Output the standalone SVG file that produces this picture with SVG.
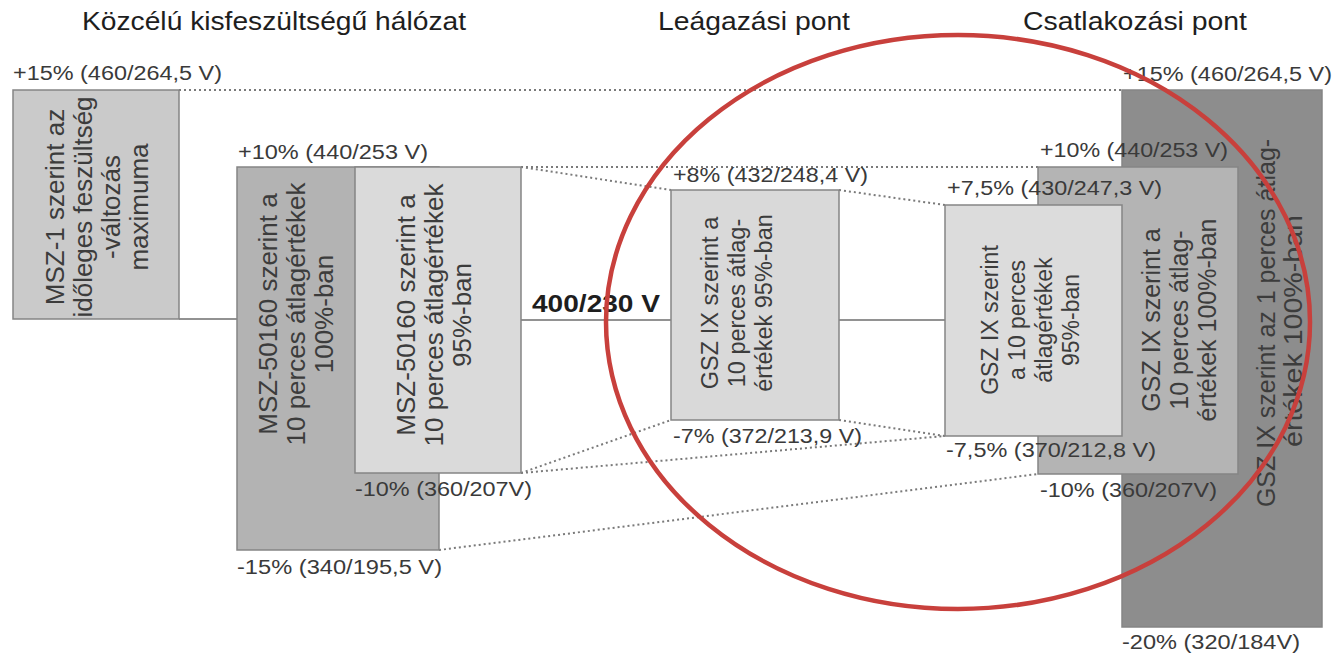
<svg xmlns="http://www.w3.org/2000/svg" width="1335" height="656" viewBox="0 0 1335 656">
<style>
.title{font-family:"Liberation Sans",Arial,sans-serif;font-size:26px;fill:#1e1e1e}
.lbl{font-family:"Liberation Sans",Arial,sans-serif;font-size:20px;fill:#3a3a3a}
.rot{font-family:"Liberation Sans",Arial,sans-serif;fill:#3c3c3c;text-anchor:middle}
.box{stroke:#858585;stroke-width:1.5}
.solid{stroke:#6e6e6e;stroke-width:1.5;fill:none}
.dot{stroke:#7a7a7a;stroke-width:2;stroke-dasharray:2 3;fill:none}
</style>
<rect width="1335" height="656" fill="#ffffff"/>
<g id="titles">
<text class="title" x="82" y="30" textLength="384" lengthAdjust="spacingAndGlyphs">Közcélú kisfeszültségű hálózat</text>
<text class="title" x="658" y="30" textLength="192" lengthAdjust="spacingAndGlyphs">Leágazási pont</text>
<text class="title" x="1023" y="30" textLength="224" lengthAdjust="spacingAndGlyphs">Csatlakozási pont</text>
</g>
<g id="connectors">
<line class="solid" x1="179" y1="319" x2="237" y2="319"/>
<line class="solid" x1="521" y1="320" x2="671" y2="320"/>
<line class="solid" x1="839" y1="320" x2="945" y2="320"/>
<line class="dot" x1="179" y1="90" x2="1122" y2="90"/>
<line class="dot" x1="521" y1="167" x2="1038" y2="167"/>
<line class="dot" x1="521" y1="167" x2="671" y2="190"/>
<line class="dot" x1="839" y1="190" x2="945" y2="205"/>
<line class="dot" x1="521" y1="473" x2="671" y2="420"/>
<line class="dot" x1="521" y1="473" x2="945" y2="436"/>
<line class="dot" x1="839" y1="420" x2="945" y2="436"/>
<line class="dot" x1="439" y1="550" x2="1038" y2="474"/>
</g>
<g id="msz1">
<rect class="box" x="13" y="90" width="166" height="229" fill="#cacaca"/>
<text class="rot" font-size="26" transform="translate(0,207) rotate(-90)"><tspan x="0" y="64">MSZ-1 szerint az</tspan><tspan x="0" y="92">időleges feszültség</tspan><tspan x="0" y="120">-változás</tspan><tspan x="0" y="148">maximuma</tspan></text>
</g>
<g id="msz50160-100">
<rect class="box" x="237" y="167" width="202" height="383" fill="#b3b3b3"/>
<text class="rot" font-size="26" transform="translate(0,314) rotate(-90)"><tspan x="0" y="277">MSZ-50160 szerint a</tspan><tspan x="0" y="305">10 perces átlagértékek</tspan><tspan x="0" y="333">100%-ban</tspan></text>
</g>
<g id="msz50160-95">
<rect class="box" x="355" y="167" width="166" height="306" fill="#dadada"/>
<text class="rot" font-size="26" transform="translate(0,315) rotate(-90)"><tspan x="0" y="415">MSZ-50160 szerint a</tspan><tspan x="0" y="443">10 perces átlagértékek</tspan><tspan x="0" y="471">95%-ban</tspan></text>
</g>
<g id="gsz-leag">
<rect class="box" x="671" y="190" width="168" height="230" fill="#d9d9d9"/>
<text class="rot" font-size="23.5" transform="translate(0,303) rotate(-90)"><tspan x="0" y="718">GSZ IX szerint a</tspan><tspan x="0" y="745">10 perces átlag-</tspan><tspan x="0" y="772">értékek 95%-ban</tspan></text>
</g>
<g id="gsz-1perc">
<rect class="box" x="1122" y="90" width="200" height="537" fill="#8d8d8d"/>
<text class="rot" font-size="25" transform="translate(0,323) rotate(-90)"><tspan x="0" y="1275">GSZ IX szerint az 1 perces átlag-</tspan></text>
<text class="rot" font-size="25" transform="translate(0,331) rotate(-90)" x="0" y="1302" textLength="232" lengthAdjust="spacingAndGlyphs">értékek 100%-ban</text>
</g>
<g id="gsz-100">
<rect class="box" x="1038" y="167" width="200" height="307" fill="#b4b4b4"/>
<text class="rot" font-size="25" transform="translate(0,320) rotate(-90)"><tspan x="0" y="1160">GSZ IX szerint a</tspan><tspan x="0" y="1188">10 perces átlag-</tspan><tspan x="0" y="1216">értékek 100%-ban</tspan></text>
</g>
<g id="gsz-95">
<rect class="box" x="945" y="205" width="177" height="231" fill="#dcdcdc"/>
<text class="rot" font-size="23" transform="translate(0,320) rotate(-90)"><tspan x="0" y="998">GSZ IX szerint</tspan><tspan x="0" y="1025">a 10 perces</tspan><tspan x="0" y="1052">átlagértékek</tspan><tspan x="0" y="1079">95%-ban</tspan></text>
</g>
<g id="labels">
<text class="lbl" x="13" y="80" textLength="209" lengthAdjust="spacingAndGlyphs">+15% (460/264,5 V)</text>
<text class="lbl" x="1123" y="81" textLength="209" lengthAdjust="spacingAndGlyphs">+15% (460/264,5 V)</text>
<text class="lbl" x="238" y="159" textLength="190" lengthAdjust="spacingAndGlyphs">+10% (440/253 V)</text>
<text class="lbl" x="1040" y="157" textLength="188" lengthAdjust="spacingAndGlyphs">+10% (440/253 V)</text>
<text class="lbl" x="673" y="182" textLength="195" lengthAdjust="spacingAndGlyphs">+8% (432/248,4 V)</text>
<text class="lbl" x="947" y="195" textLength="215" lengthAdjust="spacingAndGlyphs">+7,5% (430/247,3 V)</text>
<text class="lbl" x="673" y="443" textLength="189" lengthAdjust="spacingAndGlyphs">-7% (372/213,9 V)</text>
<text class="lbl" x="946" y="457" textLength="210" lengthAdjust="spacingAndGlyphs">-7,5% (370/212,8 V)</text>
<text class="lbl" x="355" y="496" textLength="177" lengthAdjust="spacingAndGlyphs">-10% (360/207V)</text>
<text class="lbl" x="1040" y="497" textLength="177" lengthAdjust="spacingAndGlyphs">-10% (360/207V)</text>
<text class="lbl" x="237" y="574" textLength="205" lengthAdjust="spacingAndGlyphs">-15% (340/195,5 V)</text>
<text class="lbl" x="1122" y="649" textLength="178" lengthAdjust="spacingAndGlyphs">-20% (320/184V)</text>
<text x="532" y="312" font-family="Liberation Sans,Arial,sans-serif" font-size="24" font-weight="bold" fill="#1e1e1e" textLength="128" lengthAdjust="spacingAndGlyphs">400/230 V</text>
</g>
<g id="highlight">
<ellipse cx="958" cy="322" rx="352" ry="287" fill="none" stroke="#c8403c" stroke-width="4.5"/>
</g>
</svg>
